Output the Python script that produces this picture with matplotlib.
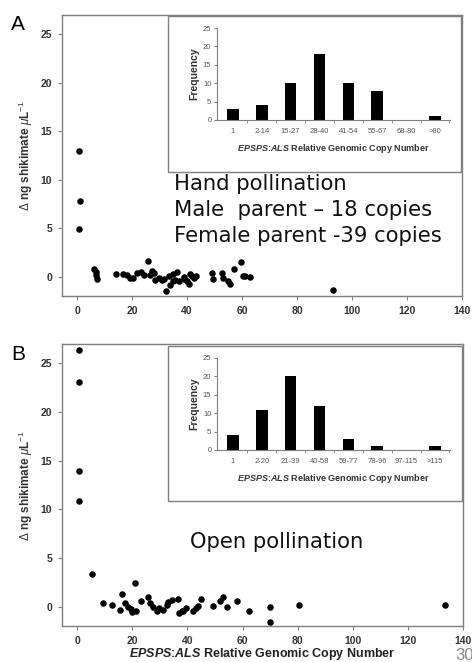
import matplotlib
matplotlib.use("Agg")
import matplotlib.pyplot as plt
from matplotlib.patches import Rectangle

# ---------------- data ----------------
# Panel A (hand pollination) scatter
a_copy = [0.8, 1.0, 0.8, 6.1, 6.7, 7.0, 7.2, 14, 16.8, 18, 19.4, 20.4, 21.6, 23.4, 24.2,
          25.7, 26.5, 27.3, 28, 28.5, 29.7, 30.7, 31.5, 32.5, 33.7, 33.5, 34.7, 35.0, 35.7,
          36.5, 37.1, 38.9, 39.0, 40.1, 40.7, 41.2, 41.9, 42.5, 43.1, 49.1, 49.6, 52.6,
          53.2, 55, 55.6, 56.9, 59.6, 60.2, 61.1, 62.9, 93]
a_shik = [13.0, 7.8, 4.9, 0.75, 0.5, 0.2, -0.2, 0.3, 0.3, 0.15, -0.1, -0.1, 0.35, 0.45, 0.15,
          1.65, 0.2, 0.6, 0.35, -0.3, -0.1, -0.35, -0.2, -1.5, -0.9, 0.05, 0.25, -0.5, -0.3,
          0.5, -0.45, 0.0, -0.2, -0.45, -0.8, 0.25, 0.07, -0.1, 0.07, 0.4, -0.2, 0.35,
          -0.15, -0.5, -0.8, 0.75, 1.55, 0.05, 0.05, -0.05, -1.4]

# Panel B (open pollination) scatter
b_copy = [0.5, 0.6, 0.6, 0.6, 5.5, 9.4, 12.5, 16.1, 15.7, 17.5, 18.5, 19.4, 20, 20.9, 21.4,
          23.3, 25.7, 26.6, 27.4, 29, 29.8, 31, 32.6, 33, 34.4, 36.6, 37, 38, 38.5, 39.5,
          42.1, 43.3, 43.9, 45.1, 49.3, 51.7, 52.9, 54.2, 58.1, 62.3, 69.8, 69.8, 80.4, 133.6]
b_shik = [26.4, 23.1, 13.9, 10.9, 3.35, 0.4, 0.17, 1.3, -0.35, 0.35, 0.0, -0.27, -0.6, 2.4, -0.5,
          0.6, 1.0, 0.35, -0.06, -0.5, -0.17, -0.35, 0.17, 0.5, 0.7, 0.76, -0.7, -0.5, -0.5, -0.17,
          -0.5, -0.17, 0.07, 0.76, 0.07, 0.6, 1.0, -0.07, 0.59, -0.5, 0.0, -1.6, 0.2, 0.2]

# Inset histograms
a_bins = ["1", "2-14", "15-27", "28-40", "41-54", "55-67", "68-80", ">80"]
a_freq = [3, 4, 10, 18, 10, 8, 0, 1]
b_bins = ["1", "2-20", "21-39", "40-58", "59-77", "78-96", "97-115", ">115"]
b_freq = [4, 11, 20, 12, 3, 1, 0, 1]

x_ticks = [0, 20, 40, 60, 80, 100, 120, 140]
y_ticks = [0, 5, 10, 15, 20, 25]

GRAY = "#7f7f7f"
plt.rcParams["font.family"] = ["Liberation Sans", "DejaVu Sans"]
plt.rcParams["mathtext.fontset"] = "custom"
plt.rcParams["mathtext.rm"] = "Liberation Sans"
plt.rcParams["mathtext.it"] = "Liberation Sans:italic"
plt.rcParams["mathtext.bf"] = "Liberation Sans:bold"
plt.rcParams["mathtext.bfit"] = "Liberation Sans:italic:bold"

W, H = 472, 662
fig = plt.figure(figsize=(W / 100, H / 100), dpi=100)

XLAB = r"$\mathbfit{EPSPS}$:$\mathbfit{ALS}$ Relative Genomic Copy Number"


def fr(l, t, r, b):
    return [l / W, (H - b) / H, (r - l) / W, (b - t) / H]


def main_axes(rect, xs, ys, show_xlabel):
    ax = fig.add_axes(rect)
    ax.scatter(xs, ys, s=22, color="black", zorder=3, linewidths=0)
    ax.set_xlim(-5.5, 140)
    ax.set_ylim(-2, 27)
    ax.set_xticks(x_ticks)
    ax.set_yticks(y_ticks)
    for sp in ax.spines.values():
        sp.set_color(GRAY)
        sp.set_linewidth(1.0)
    ax.tick_params(direction="out", color=GRAY, length=3, width=0.8,
                   labelsize=7.5, pad=4)
    for lab in ax.get_xticklabels() + ax.get_yticklabels():
        lab.set_fontweight("bold")
        lab.set_color("#333333")
    ax.set_ylabel(r"$\Delta$ ng shikimate $\mu$L$^{-1}$", fontsize=8.5,
                  fontweight="bold", color="#333333", labelpad=4)
    if show_xlabel:
        ax.set_xlabel(XLAB, fontsize=9, fontweight="bold", color="#222222", labelpad=0)
    return ax


def inset(box, axrect, cats, freqs):
    fig.add_artist(Rectangle((box[0], box[1]), box[2], box[3], transform=fig.transFigure,
                             facecolor="white", edgecolor=GRAY, linewidth=1.0, zorder=5))
    ax = fig.add_axes(axrect, zorder=6)
    ax.patch.set_alpha(0)
    pos = list(range(len(cats)))
    ax.bar(pos, freqs, width=0.4, color="black")
    ax.set_xlim(-0.55, 7.52)
    ax.set_ylim(0, 25)
    ax.set_yticks([0, 5, 10, 15, 20, 25])
    ax.set_xticks(pos)
    ax.set_xticklabels(cats)
    ax.set_xticks([p + 0.5 for p in pos], minor=True)
    for s in ("top", "right"):
        ax.spines[s].set_visible(False)
    for s in ("left", "bottom"):
        ax.spines[s].set_color(GRAY)
        ax.spines[s].set_linewidth(0.8)
    ax.tick_params(which="major", axis="x", length=0, labelsize=5.5, labelcolor="#555555", pad=6)
    ax.tick_params(which="minor", axis="x", length=2, color=GRAY, direction="out")
    ax.tick_params(axis="y", length=2, color=GRAY, labelsize=5.5, labelcolor="#555555", pad=2)
    ax.set_ylabel("Frequency", fontsize=7.5, fontweight="bold", color="#333333", labelpad=3)
    ax.set_xlabel(XLAB, fontsize=6.5, fontweight="bold", color="#333333", labelpad=5)
    return ax


axA = main_axes(fr(62, 15, 462, 296), a_copy, a_shik, False)
axB = main_axes(fr(62, 344, 463, 626), b_copy, b_shik, True)

inset(fr(168, 16, 461, 172), fr(217, 28, 450, 120), a_bins, a_freq)
inset(fr(168, 346, 462, 501), fr(217, 358, 450, 450), b_bins, b_freq)

fig.text(11 / W, 1 - 24 / H, "A", fontsize=15, va="center", ha="left")
fig.text(11 / W, 1 - 354 / H, "B", fontsize=15, va="center", ha="left")

fig.text(174 / W, 1 - 174 / H, "Hand pollination\nMale  parent \u2013 18 copies\nFemale parent -39 copies",
         fontsize=15.2, family="DejaVu Sans", va="top", ha="left", linespacing=1.38,
         color="#111111")
fig.text(190 / W, 1 - 532 / H, "Open pollination", fontsize=15.2, family="DejaVu Sans",
         va="top", ha="left", color="#111111")

fig.text(455 / W, 1 - 656 / H, "30", fontsize=12, color="#888888", va="center", ha="left")

fig.savefig("out.png", dpi=100)
